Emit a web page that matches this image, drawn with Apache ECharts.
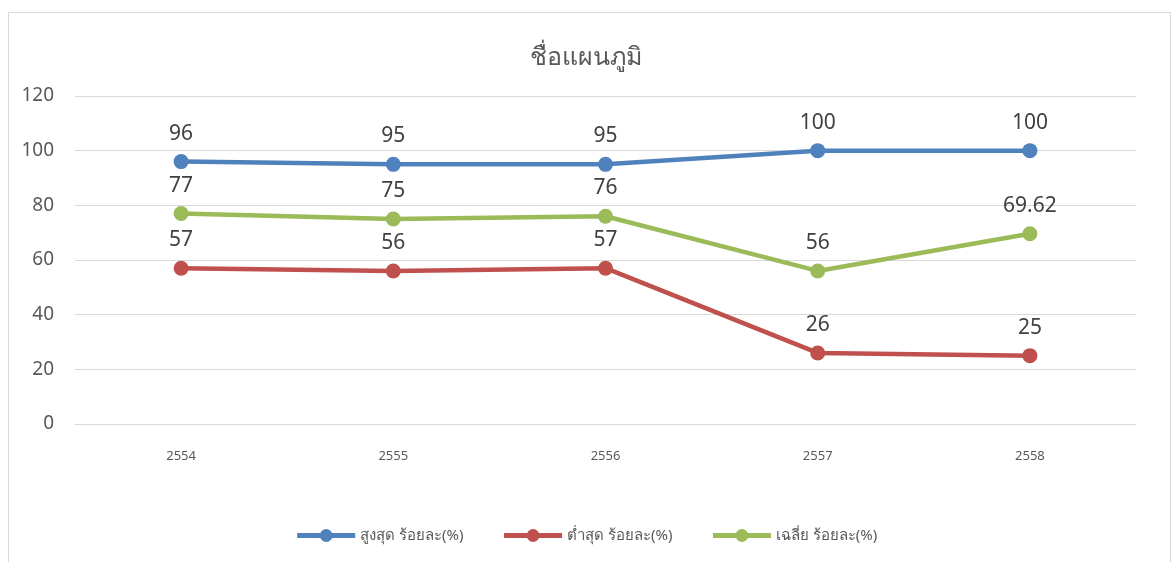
<!DOCTYPE html>
<html><head><meta charset="utf-8">
<script src="https://cdn.jsdelivr.net/npm/echarts@6/dist/echarts.min.js"></script>
<style>html,body{margin:0;padding:0;background:#fff}#c{width:1172px;height:562px}</style>
</head><body><div id="c"></div>
<script>
const categories = ['2554','2555','2556','2557','2558'];
const highValues = [96, 95, 95, 100, 100];
const lowValues = [57, 56, 57, 26, 25];
const avgValues = [77, 75, 76, 56, 69.62];
const seriesNames = ['สูงสุด ร้อยละ(%)', 'ต่ำสุด ร้อยละ(%)', 'เฉลี่ย ร้อยละ(%)'];
const colors = ['#4f81bd', '#c0504d', '#9bbb59'];
const font = '"Noto Sans", "DejaVu Sans", sans-serif';

const chart = echarts.init(document.getElementById('c'));
function mk(name, data, color) {
  return {
    name, type: 'line', data,
    symbol: 'circle', symbolSize: 15,
    lineStyle: { width: 4.5, color },
    itemStyle: { color },
    label: { show: true, position: 'top', distance: 10, fontSize: 21, color: '#404040', fontFamily: font },
    z: 3
  };
}
chart.setOption({
  animation: false,
  color: colors,
  title: {
    text: 'ชื่อแผนภูมิ', left: 'center', top: 40,
    textStyle: { fontSize: 25, fontWeight: 'normal', color: '#595959', fontFamily: font }
  },
  graphic: [{
    type: 'rect', shape: { x: 8.5, y: 12.5, width: 1162, height: 560 },
    style: { fill: 'none', stroke: '#d9d9d9', lineWidth: 1 }, silent: true
  }],
  legend: {
    bottom: 14, left: 'center', itemWidth: 58, itemHeight: 16, itemGap: 38,
    lineStyle: { width: 5 },
    textStyle: { fontSize: 15, color: '#595959', fontFamily: font },
    data: seriesNames
  },
  grid: { left: 75, right: 36, top: 96, bottom: 138, containLabel: false },
  xAxis: {
    type: 'category', data: categories, boundaryGap: true,
    axisLine: { lineStyle: { color: '#d9d9d9' } }, axisTick: { show: false },
    axisLabel: { fontSize: 13, color: '#595959', margin: 26, fontFamily: font }
  },
  yAxis: {
    type: 'value', min: 0, max: 120, interval: 20,
    axisLine: { show: false }, axisTick: { show: false },
    splitLine: { lineStyle: { color: '#d9d9d9', width: 1 } },
    axisLabel: { fontSize: 19, color: '#595959', margin: 21, fontFamily: font }
  },
  series: [
    mk(seriesNames[0], highValues, colors[0]),
    mk(seriesNames[1], lowValues, colors[1]),
    mk(seriesNames[2], avgValues, colors[2])
  ]
});
</script></body></html>
